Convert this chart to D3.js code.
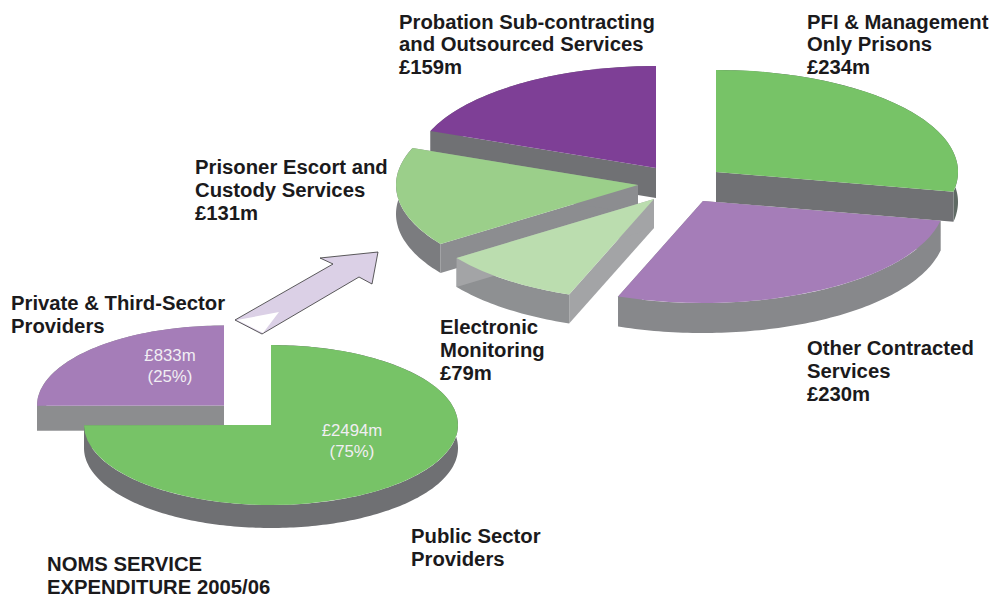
<!DOCTYPE html>
<html>
<head>
<meta charset="utf-8">
<script src="https://cdn.jsdelivr.net/npm/d3@7"></script>
<style>
  body { margin: 0; background: #fff; }
  text { font-family: "Liberation Sans", Arial, sans-serif; }
</style>
</head>
<body>
<div id="viz"></div>
<script>
var w = 999, h = 598;

// overall split (left pie)
var splitNames = ['Public Sector Providers', 'Private & Third-Sector Providers'];
var splitValues = [2494, 833];
var splitPct = [75, 25];

// private & third sector breakdown (right pie), clockwise from 12 o'clock
var partNames = ['PFI & Management Only Prisons', 'Other Contracted Services', 'Electronic Monitoring', 'Prisoner Escort and Custody Services', 'Probation Sub-contracting and Outsourced Services'];
var partValues = [234, 230, 79, 131, 159];

// layout of the two pies
var splitLayout = {
  rx: 187, ry: 80,
  apex: [[271, 425], [224, 405.5]],
  depth: [23, 25],
  top: ['#77c367', '#a57db8'],
  rim: ['#6f7073', '#8c8d8f'],
  wall: ['#6f7073', '#8c8d8f'],
  order: [1, 0]
};
var partLayout = {
  rx: 242, ry: 102,
  apex: [[716, 172], [703, 201], [654, 199], [638, 185], [656, 168]],
  depth: [30, 30, 29, 29, 30],
  top: ['#77c367', '#a57db8', '#bbddaf', '#9bcf8a', '#7e3f96'],
  rim: ['#5f6a64', '#87888b', '#8e9092', '#7b7c7f', '#707174'],
  wall: ['#707174', '#87888b', '#a3a4a6', '#8c8d90', '#707174'],
  order: [4, 0, 1, 3, 2]
};

var svg = d3.select('#viz')
            .append('svg')
            .attr('width', w)
            .attr('height', h)
            .style('display', 'block');

var pie = d3.pie().sort(null).startAngle(0).endAngle(2 * Math.PI);
var line = d3.line();

function drawPie(values, lay) {
  var slices = pie(values);
  var arc = d3.arc().innerRadius(0).outerRadius(lay.rx);
  var flat = lay.ry / lay.rx;

  lay.order.forEach(function(i) {
    var s = slices[i], ax = lay.apex[i][0], ay = lay.apex[i][1], dp = lay.depth[i];
    var g = svg.append('g').attr('class', 'slice');

    function pt(a, off) {
      return [ax + lay.rx * Math.sin(a), ay - lay.ry * Math.cos(a) + off];
    }

    // outer rim
    var angs = d3.range(s.startAngle, s.endAngle, 0.02).concat([s.endAngle]);
    var rim = angs.map(function(a) { return pt(a, 0); })
      .concat(angs.slice().reverse().map(function(a) { return pt(a, dp); }));
    g.append('path').attr('d', line(rim) + 'Z').attr('fill', lay.rim[i]);

    // cut faces
    [s.startAngle, s.endAngle].forEach(function(a) {
      var face = [[ax, ay], pt(a, 0), pt(a, dp), [ax, ay + dp]];
      g.append('path').attr('d', line(face) + 'Z').attr('fill', lay.wall[i]);
    });

    // top
    g.append('path')
      .attr('d', arc(s))
      .attr('transform', 'translate(' + ax + ',' + ay + ') scale(1,' + flat + ')')
      .attr('fill', lay.top[i]);
  });
}

drawPie(splitValues, splitLayout);

//arrow between the pies
var arrowPts = [[235, 320], [262, 334], [359, 277], [372, 284], [378, 252], [320, 258], [333, 264]];
var arrowTail = [[237, 320], [279, 312], [263, 333]];
svg.append('path')
  .attr('d', line(arrowPts) + 'Z')
  .attr('fill', '#dbd0e6')
  .attr('stroke', '#333')
  .attr('stroke-width', 0.8);
svg.append('path')
  .attr('d', line(arrowTail) + 'Z')
  .attr('fill', '#fff');

drawPie(partValues, partLayout);

//labels
var labelLines = [
  { x: 399, y: 28.5, t: ['Probation Sub-contracting', 'and Outsourced Services', '£' + partValues[4] + 'm'] },
  { x: 807, y: 28.5, t: ['PFI & Management', 'Only Prisons', '£' + partValues[0] + 'm'] },
  { x: 195, y: 174, t: ['Prisoner Escort and', 'Custody Services', '£' + partValues[3] + 'm'] },
  { x: 440, y: 334, t: ['Electronic', 'Monitoring', '£' + partValues[2] + 'm'] },
  { x: 807, y: 355, t: ['Other Contracted', 'Services', '£' + partValues[1] + 'm'] },
  { x: 11, y: 310, t: ['Private & Third-Sector', 'Providers'] },
  { x: 411, y: 543, t: ['Public Sector', 'Providers'] },
  { x: 47, y: 570.8, t: ['NOMS SERVICE', 'EXPENDITURE 2005/06'] }
];

labelLines.forEach(function(l) {
  svg.append('g').selectAll('text')
    .data(l.t)
    .enter()
    .append('text')
    .attr('x', l.x)
    .attr('y', function(d, i) { return l.y + i * 22.8; })
    .attr('font-size', 20.3)
    .attr('font-weight', 'bold')
    .attr('fill', '#1b1a1c')
    .text(function(d) { return d; });
});

var inner = [
  { x: 170, y: 361, v: 1 },
  { x: 352, y: 436, v: 0 }
];
inner.forEach(function(l) {
  var t = ['£' + splitValues[l.v] + 'm', '(' + splitPct[l.v] + '%)'];
  svg.append('g').selectAll('text')
    .data(t)
    .enter()
    .append('text')
    .attr('x', l.x)
    .attr('y', function(d, i) { return l.y + i * 21; })
    .attr('text-anchor', 'middle')
    .attr('font-size', 16.8)
    .attr('fill', '#f1eef3')
    .text(function(d) { return d; });
});
</script>
</body>
</html>
